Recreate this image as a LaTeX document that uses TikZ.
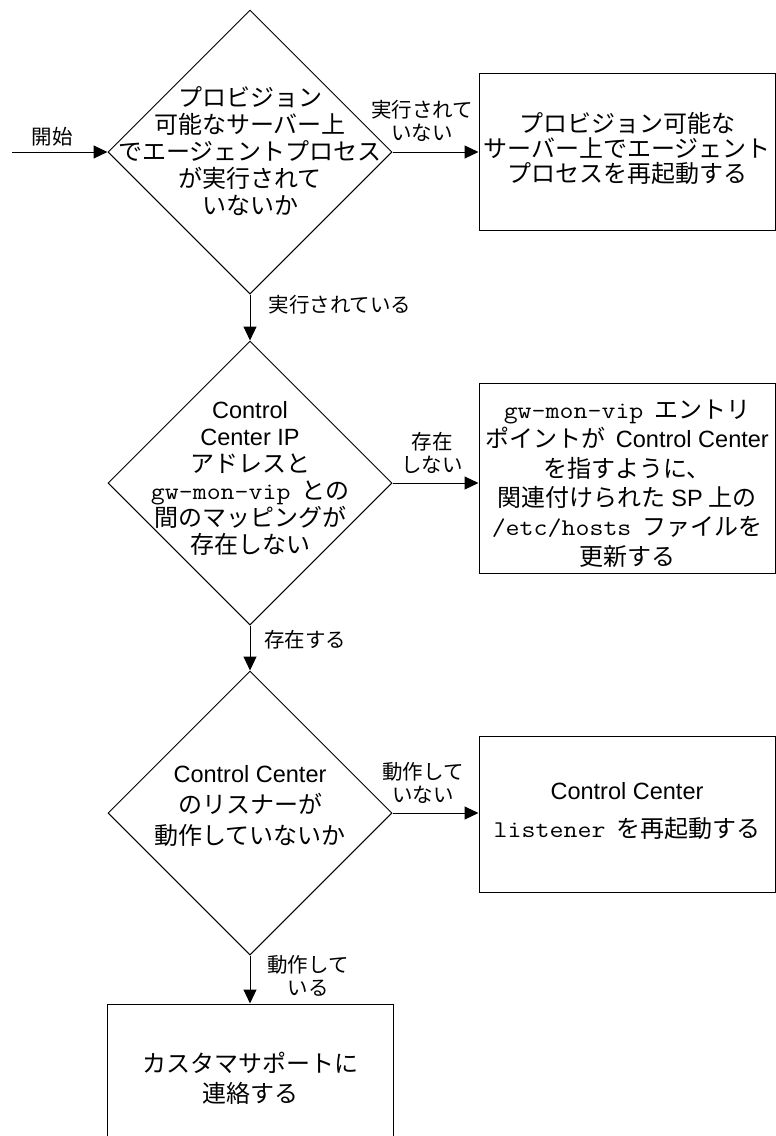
\documentclass[tikz,border=0pt]{standalone}
\usepackage{fontspec}
\setmainfont{Noto Sans CJK JP}
\newfontfamily\lat[Scale=0.98]{Liberation Sans}
\setmonofont[FakeStretch=1.13]{Latin Modern Mono}
\newcommand{\gp}{\hspace{0.45em}}
\usetikzlibrary{shapes.geometric,arrows.meta}
\begin{document}
\begin{tikzpicture}[x=1pt,y=-1pt,
  dec/.style={diamond, draw, line width=1pt, minimum width=284pt, minimum height=284pt, inner sep=0pt},
  box/.style={rectangle, draw, line width=1pt, inner sep=0pt},
  txt/.style={align=center, inner sep=0pt},
  lbl/.style={align=center, inner sep=0pt, font=\fontsize{20.5}{22.5}\selectfont},
  arr/.style={-{Triangle[length=14pt,width=13pt]}, line width=1pt}
]
\clip (0,0) rectangle (776,1136);

% decisions
\node[dec] (d1) at (250,152) {};
\node[txt, font=\fontsize{24}{27}\selectfont] (d1t) at (250,151)
  {プロビジョン\\可能なサーバー上\\でエージェントプロセス\\が実行されて\\いないか};

\node[dec] (d2) at (250,483) {};
\node[txt, font=\fontsize{24}{27}\selectfont] (d2t) at (250,478)
  {{\lat Control}\\{\lat Center IP}\\アドレスと\\{\ttfamily gw-mon-vip}\gp との\\間のマッピングが\\存在しない};

\node[dec] (d3) at (250,813) {};
\node[txt, font=\fontsize{24}{31}\selectfont] (d3t) at (250,806)
  {{\lat Control Center}\\のリスナーが\\動作していないか};

% boxes
\node[box, minimum width=296pt, minimum height=157pt] (b1) at (627,151.5) {};
\node[txt, font=\fontsize{24}{25}\selectfont] (b1t) at (627,148)
  {プロビジョン可能な\\サーバー上でエージェント\\プロセスを再起動する};

\node[box, minimum width=296pt, minimum height=190pt] (b2) at (627,478) {};
\node[txt, font=\fontsize{24}{29.4}\selectfont] (b2t) at (627,483.5)
  {{\ttfamily gw-mon-vip}\gp エントリ\\ポイントが\ \ {\lat Control Center}\\を指すように、\\関連付けられた {\lat SP} 上の\\{\ttfamily /etc/hosts}\gp ファイルを\\更新する};

\node[box, minimum width=296pt, minimum height=156pt] (b3) at (627,814) {};
\node[txt, font=\fontsize{24}{38}\selectfont] (b3t) at (627,811)
  {{\lat Control Center}\\{\ttfamily listener}\gp を再起動する};

\node[box, minimum width=286pt, minimum height=176pt] (b4) at (250,1092) {};
\node[txt, font=\fontsize{24}{30}\selectfont] (b4t) at (250,1078)
  {カスタマサポートに\\連絡する};

% connectors
\coordinate (start) at (12,152);
\draw[arr] (start) -- (d1.west);
\node[lbl] (l0) at (52,137) {開始};

\draw[arr] (d1.east) -- (d1.east -| b1.west);
\node[lbl] (l1) at (422,121) {実行されて\\いない};

\draw[arr] (d1.south) -- (d2.north);
\node[lbl] (l2) at (340,305) {実行されている};

\draw[arr] (d2.east) -- (d2.east -| b2.west);
\node[lbl] (l3) at (432,453) {存在\\しない};

\draw[arr] (d2.south) -- (d3.north);
\node[lbl] (l4) at (305,640) {存在する};

\draw[arr] (d3.east) -- (d3.east -| b3.west);
\node[lbl] (l5) at (423,783) {動作して\\いない};

\draw[arr] (d3.south) -- (b4.north);
\node[lbl] (l6) at (308,976) {動作して\\いる};
\end{tikzpicture}
\end{document}
